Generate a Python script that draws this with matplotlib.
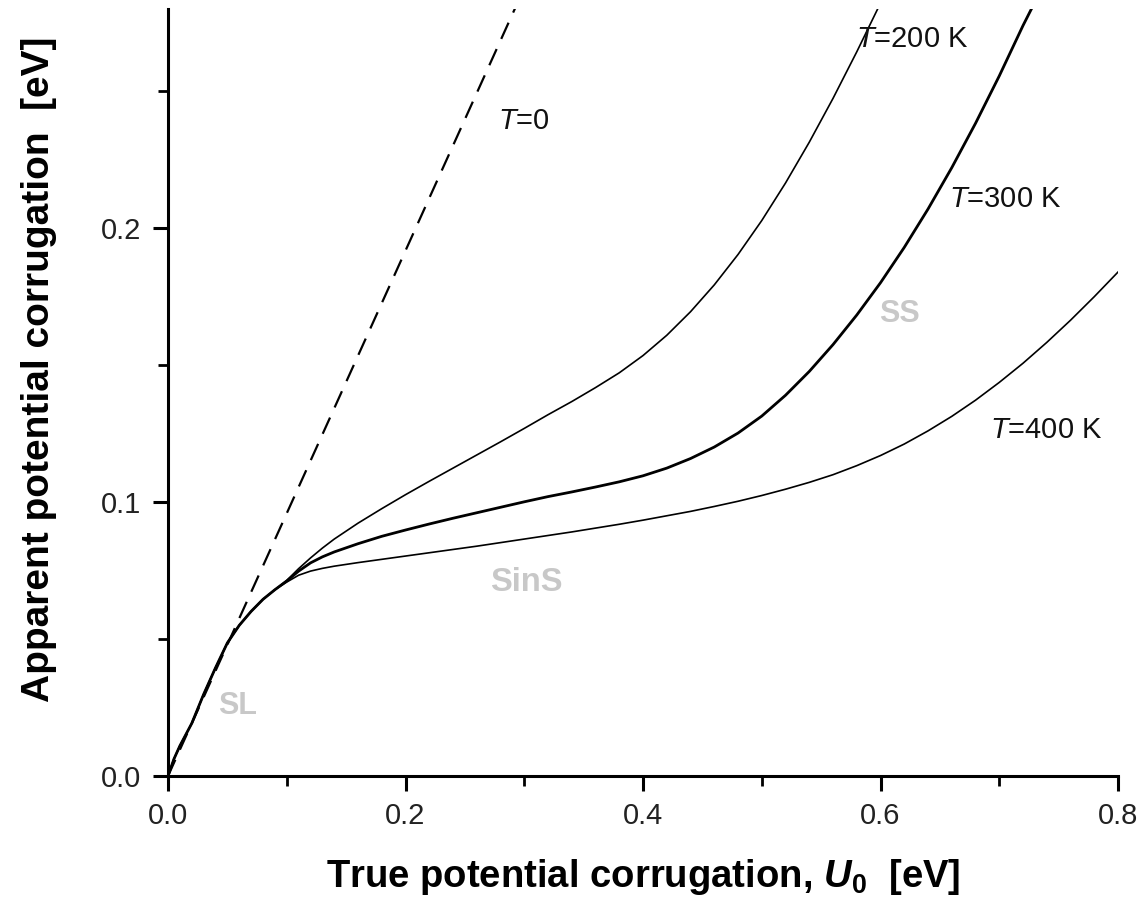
import matplotlib
matplotlib.use("Agg")
import matplotlib.pyplot as plt
from matplotlib.ticker import MultipleLocator, FormatStrFormatter

plt.rcParams['font.family'] = ['Liberation Sans', 'DejaVu Sans']
plt.rcParams['mathtext.fontset'] = 'custom'
plt.rcParams['mathtext.rm'] = 'Liberation Sans'
plt.rcParams['mathtext.it'] = 'Liberation Sans:italic'
plt.rcParams['mathtext.bf'] = 'Liberation Sans:bold'
plt.rcParams['mathtext.bfit'] = 'Liberation Sans:italic:bold'

# shared low-U0 branch (all temperatures coincide here)
u_common = [0.0, 0.005, 0.01, 0.02, 0.03, 0.04, 0.05, 0.06, 0.07, 0.08, 0.09]
a_common = [0.0, 0.0062, 0.0110, 0.0192, 0.0298, 0.0395, 0.0486, 0.0550, 0.0601, 0.0645, 0.0680]

# T = 0 (dashed)
u_t0 = [0.0, 0.293]
a_t0 = [0.0, 0.281]

# T = 200 K
u_t200 = [0.10, 0.11, 0.12, 0.13, 0.14, 0.16, 0.18, 0.20, 0.22, 0.24, 0.26, 0.28, 0.30,
          0.32, 0.34, 0.36, 0.38, 0.40, 0.42, 0.44, 0.46, 0.48, 0.50, 0.52, 0.54, 0.56,
          0.58, 0.60]
a_t200 = [0.0714, 0.0757, 0.0796, 0.0832, 0.0865, 0.0923, 0.0976, 0.1027, 0.1076, 0.1124,
          0.1172, 0.1220, 0.1269, 0.1319, 0.1367, 0.1418, 0.1472, 0.1535, 0.1609, 0.1695,
          0.1793, 0.1904, 0.2028, 0.2165, 0.2314, 0.2474, 0.2644, 0.2822]

# T = 300 K
u_t300 = [0.10, 0.11, 0.12, 0.13, 0.14, 0.16, 0.18, 0.20, 0.22, 0.24, 0.26, 0.28, 0.30,
          0.32, 0.34, 0.36, 0.38, 0.40, 0.42, 0.44, 0.46, 0.48, 0.50, 0.52, 0.54, 0.56,
          0.58, 0.60, 0.62, 0.64, 0.66, 0.68, 0.70, 0.72, 0.727]
a_t300 = [0.0712, 0.0748, 0.0778, 0.0800, 0.0818, 0.0848, 0.0875, 0.0898, 0.0920, 0.0941,
          0.0961, 0.0981, 0.1001, 0.1020, 0.1037, 0.1055, 0.1074, 0.1096, 0.1124, 0.1159,
          0.1201, 0.1252, 0.1314, 0.1390, 0.1477, 0.1575, 0.1683, 0.1801, 0.1930, 0.2070,
          0.2221, 0.2383, 0.2556, 0.2740, 0.2800]

# T = 400 K
u_t400 = [0.10, 0.11, 0.12, 0.13, 0.14, 0.16, 0.18, 0.20, 0.22, 0.24, 0.26, 0.28, 0.30,
          0.32, 0.34, 0.36, 0.38, 0.40, 0.42, 0.44, 0.46, 0.48, 0.50, 0.52, 0.54, 0.56,
          0.58, 0.60, 0.62, 0.64, 0.66, 0.68, 0.70, 0.72, 0.74, 0.76, 0.78, 0.80]
a_t400 = [0.0708, 0.0733, 0.0748, 0.0758, 0.0766, 0.0779, 0.0791, 0.0803, 0.0815, 0.0827,
          0.0839, 0.0852, 0.0865, 0.0878, 0.0891, 0.0905, 0.0919, 0.0934, 0.0950, 0.0966,
          0.0984, 0.1003, 0.1024, 0.1047, 0.1072, 0.1100, 0.1133, 0.1170, 0.1212, 0.1260,
          0.1313, 0.1372, 0.1437, 0.1507, 0.1583, 0.1664, 0.1750, 0.1840]

fig = plt.figure(figsize=(11.46, 9.08), dpi=100)
ax = fig.add_axes([0.1466, 0.1454, 0.8290, 0.8446])

ax.plot(u_t0, a_t0, color='black', lw=1.6, ls=(0, (8, 5)))
ax.plot(u_common + u_t200, a_common + a_t200, color='black', lw=1.2)
ax.plot(u_common + u_t400, a_common + a_t400, color='black', lw=1.2)
ax.plot(u_common + u_t300, a_common + a_t300, color='black', lw=2.0)

ax.set_xlim(0, 0.8)
ax.set_ylim(0, 0.28)
ax.xaxis.set_major_locator(MultipleLocator(0.2))
ax.xaxis.set_minor_locator(MultipleLocator(0.1))
ax.yaxis.set_major_locator(MultipleLocator(0.1))
ax.yaxis.set_minor_locator(MultipleLocator(0.05))
ax.xaxis.set_major_formatter(FormatStrFormatter('%.1f'))
ax.yaxis.set_major_formatter(FormatStrFormatter('%.1f'))

for s in ['top', 'right']:
    ax.spines[s].set_visible(False)
for s in ['left', 'bottom']:
    ax.spines[s].set_linewidth(2.2)
ax.tick_params(which='major', direction='out', length=11, width=2.2, labelsize=21, pad=8,
               colors='black', labelcolor='#222222')
ax.tick_params(which='minor', direction='out', length=7, width=2.0)

ax.set_xlabel(r'True potential corrugation, $\mathbfit{U}_\mathbf{0}$  [eV]',
              fontsize=27.5, fontweight='bold', labelpad=19)
ax.set_ylabel('Apparent potential corrugation  [eV]', fontsize=28, fontweight='bold')
ax.yaxis.set_label_coords(-0.117, 0.53)

lbl = dict(fontsize=21, color='#111111')
ax.text(0.278, 0.239, r'$T$=0', va='center', **lbl)
ax.text(0.579, 0.269, r'$T$=200 K', va='center', **lbl)
ax.text(0.658, 0.2106, r'$T$=300 K', va='center', **lbl)
ax.text(0.692, 0.1265, r'$T$=400 K', va='center', **lbl)

grey = dict(color='#c8c8c8', fontweight='bold', va='center', ha='center')
ax.text(0.059, 0.0256, 'SL', fontsize=22, **grey)
ax.text(0.302, 0.0706, 'SinS', fontsize=23.5, **grey)
ax.text(0.616, 0.1686, 'SS', fontsize=22, **grey)

fig.savefig('out.png', dpi=100)
